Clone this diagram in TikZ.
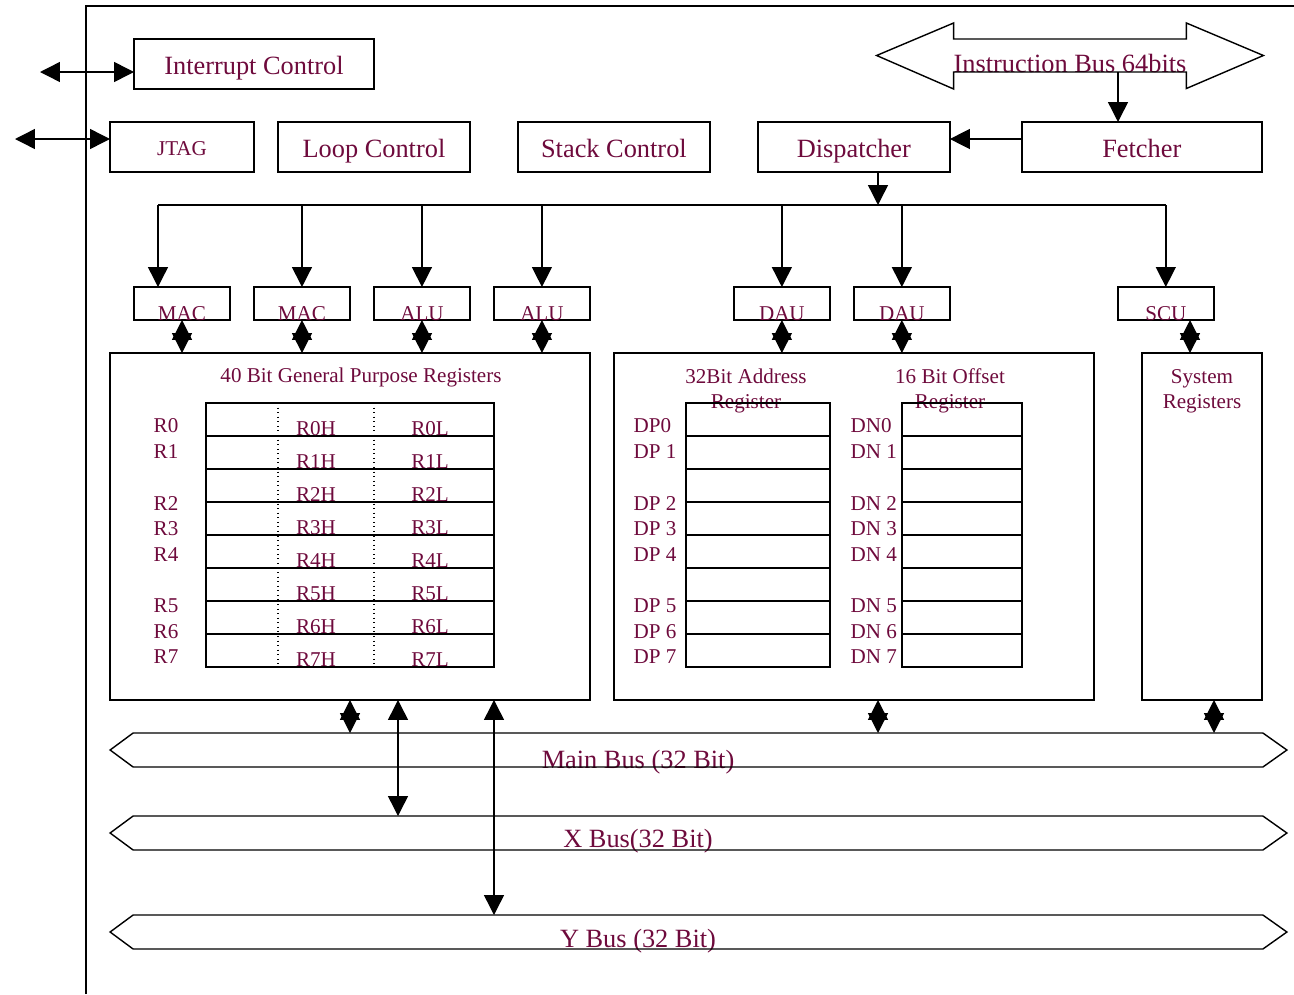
\documentclass[tikz,border=0pt]{standalone}
\usepackage{fontspec}
\setmainfont{Liberation Serif}
\usetikzlibrary{positioning,arrows.meta}
\definecolor{regtext}{RGB}{110,10,60}
\newcommand{\bigsize}{\fontsize{15}{18}\selectfont}
\newcommand{\smallsize}{\fontsize{12}{14.2}\selectfont}

\begin{document}
\begin{tikzpicture}
            [x=0.02cm,y=-0.02cm,line width=0.8pt,
            >={Triangle[length=0.4cm,width=0.4cm]},
            every node/.style={text=regtext},
            bigbox/.style={draw,outer sep=0pt,minimum height=1cm,text height=0.42cm,text depth=0pt,font=\bigsize},
            unitbox/.style={draw,outer sep=0pt,minimum width=1.92cm,inner sep=0pt,text height=0.66cm,text depth=0pt,font=\smallsize},
            regbank/.style={draw,outer sep=0pt,minimum height=6.94cm},
            busbody/.style={inner sep=0pt,outer sep=0pt,minimum width=22.6cm,minimum height=0.68cm},
            lbl/.style={font=\smallsize,inner sep=0pt}]
            \useasboundingbox (0,0) rectangle (1294,994);
            % chip outline
            \draw (86,994) -- (86,6) -- (1294,6);

            % control blocks
            \node[bigbox,minimum width=4.8cm] (irq) at (254,64) {Interrupt Control};
            \node[bigbox,minimum width=2.88cm,font=\smallsize,text height=0.32cm] (jtag) at (182,147) {JTAG};
            \node[bigbox,minimum width=3.84cm,right=0.48cm of jtag] (loop) {Loop Control};
            \node[bigbox,minimum width=3.84cm,right=0.96cm of loop] (stack) {Stack Control};
            \node[bigbox,minimum width=3.84cm,right=0.96cm of stack] (disp) {Dispatcher};
            \node[bigbox,minimum width=4.8cm,right=1.44cm of disp] (fetch) {Fetcher};

            % instruction bus
            \node[busbody,minimum width=4.6cm,minimum height=0.66cm,text height=0.66cm,text depth=0pt,font=\bigsize]
                (ibus) at (1070,55.5) {Instruction Bus 64bits};
            \draw (ibus.north west) -- (ibus.north east) -- ++(0,-16) -- ++(77,32.5) -- ++(-77,33)
                -- (ibus.south east) -- (ibus.south west) -- ++(0,17) -- ++(-77,-33.5) -- ++(77,-32.5) -- cycle;

            % execution units
            \node[unitbox] (mac1) at (182,303.5) {MAC};
            \node[unitbox,right=0.48cm of mac1] (mac2) {MAC};
            \node[unitbox,right=0.48cm of mac2] (alu1) {ALU};
            \node[unitbox,right=0.48cm of alu1] (alu2) {ALU};
            \node[unitbox,right=2.88cm of alu2] (dau1) {DAU};
            \node[unitbox,right=0.48cm of dau1] (dau2) {DAU};
            \node[unitbox,right=3.36cm of dau2] (scu) {SCU};

            % register files
            \node[regbank,minimum width=9.6cm] (gpr) at (350,526.5) {};
            \node[regbank,minimum width=9.6cm] (addr) at (854,526.5) {};
            \node[regbank,minimum width=2.4cm] (sysreg) at (1202,526.5) {};
            \node[lbl] (gprtitle) at (361,377) {40 Bit General Purpose Registers};
            \node[lbl,align=center] (addrtitle) at (746,391) {32Bit Address\\Register};
            \node[lbl,align=center] (offtitle) at (950,391) {16 Bit Offset\\Register};
            \node[lbl,align=center] (systitle) at (1202,391) {System\\Registers};

            \foreach \x/\w in {206/494, 686/830, 902/1022} {
                \draw (\x,403) rectangle (\w,667);
                \foreach \r in {1,...,7}
                    \draw (\x,403+33*\r) -- (\w,403+33*\r);
            }
            \draw[dotted,line width=0.6pt] (278,403) -- (278,667);
            \draw[dotted,line width=0.6pt] (374,403) -- (374,667);
            \foreach \i in {0,...,7} {
                \node[lbl,anchor=base] (rh\i) at (316,435+33*\i) {R\i H};
                \node[lbl,anchor=base] (rl\i) at (430,435+33*\i) {R\i L};
            }
            \foreach \i/\y/\p/\n in {0/426/DP0/DN0, 1/452/DP 1/DN 1, 2/504/DP 2/DN 2, 3/529/DP 3/DN 3,
                                     4/555/DP 4/DN 4, 5/606/DP 5/DN 5, 6/632/DP 6/DN 6, 7/657/DP 7/DN 7} {
                \node[lbl] (r\i) at (166,\y) {R\i};
                \node[lbl,anchor=west] (dp\i) at (633,\y) {\p};
                \node[lbl,anchor=west] (dn\i) at (850,\y) {\n};
            }

            % data buses
            \node[busbody,label={[anchor=base,inner sep=0pt,xshift=-1.2cm,yshift=-0.02cm,font=\bigsize]south:Main Bus (32 Bit)}]
                (mainbus) at (698,750) {};
            \node[busbody,label={[anchor=base,inner sep=0pt,xshift=-1.2cm,yshift=0.05cm,font=\bigsize]south:X Bus(32 Bit)}]
                (xbus) at (698,833) {};
            \node[busbody,label={[anchor=base,inner sep=0pt,xshift=-1.2cm,yshift=0.03cm,font=\bigsize]south:Y Bus (32 Bit)}]
                (ybus) at (698,932) {};
            \foreach \b in {mainbus,xbus,ybus}
                \draw (\b.north west) -- (\b.north east) -- ++(24,17) -- (\b.south east)
                    -- (\b.south west) -- ++(-23,-17) -- cycle;

            % connections
            \coordinate (irqext) at (40,72);
            \coordinate (jtagext) at (15,139);
            \draw[<->] (irqext) -- (irqext -| irq.west);
            \draw[<->] (jtagext) -- (jtagext -| jtag.west);
            \draw[->] (1118,0 |- ibus.south) -- (1118,0 |- fetch.north);
            \draw[->] ([yshift=0.16cm]fetch.west) -- ([yshift=0.16cm]disp.east);

            \coordinate (split) at (878,205);
            \draw[->] (split |- disp.south) -- (split);
            \draw (158,0 |- split) -- (scu.north |- split);
            \draw[->] (158,0 |- split) -- (158,0 |- mac1.north);
            \foreach \u in {mac2,alu1,alu2,dau1,dau2,scu}
                \draw[->] (\u.north |- split) -- (\u.north);

            \foreach \u/\t in {mac1/gpr,mac2/gpr,alu1/gpr,alu2/gpr,dau1/addr,dau2/addr}
                \draw[<->] (\u.south) -- (\u.south |- \t.north);
            \draw[<->] (1190,0 |- scu.south) -- (1190,0 |- sysreg.north);

            \draw[<->] (gpr.south) -- (gpr.south |- mainbus.north);
            \draw[<->] (398,0 |- gpr.south) -- (398,0 |- xbus.north);
            \draw[<->] (494,0 |- gpr.south) -- (494,0 |- ybus.north);
            \draw[<->] (878,0 |- addr.south) -- (878,0 |- mainbus.north);
            \draw[<->] (1214,0 |- sysreg.south) -- (1214,0 |- mainbus.north);
\end{tikzpicture}
\end{document}
